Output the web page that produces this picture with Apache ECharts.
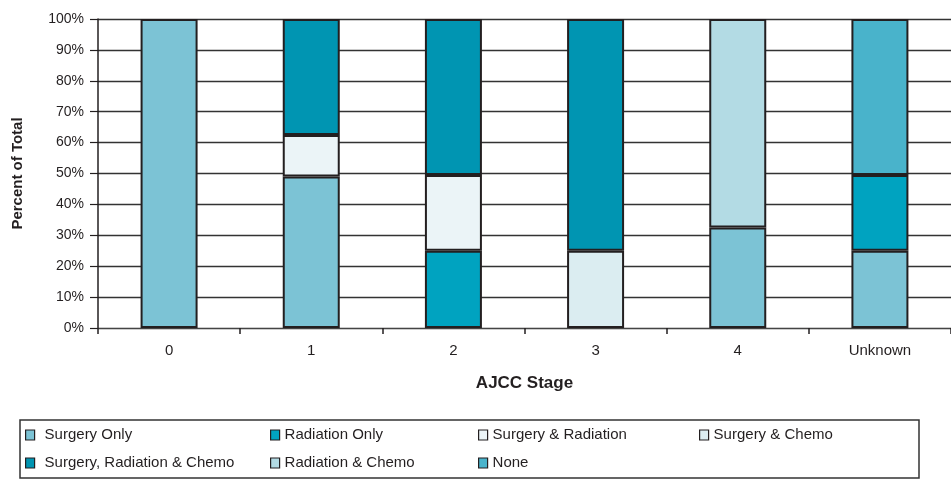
<!DOCTYPE html>
<html>
<head>
<meta charset="utf-8">
<script src="https://cdn.jsdelivr.net/npm/echarts@6/dist/echarts.min.js"></script>
<style>
html,body{margin:0;padding:0;background:#fff;}
#chart{width:951px;height:479px;}
</style>
</head>
<body>
<div id="chart"></div>
<script>
var categories = ['0', '1', '2', '3', '4', 'Unknown'];
var seriesNames = ['Surgery Only', 'Radiation Only', 'Surgery & Radiation', 'Surgery & Chemo',
  'Surgery, Radiation & Chemo', 'Radiation & Chemo', 'None'];
var surgeryOnly      = [100, 49,   0,    0,  32.5, 25];
var radiationOnly    = [0,   0,    25,   0,  0,    24.5];
var surgeryRadiation = [0,   13.5, 24.5, 0,  0,    0];
var surgeryChemo     = [0,   0,    0,    25, 0,    0];
var surgRadChemo     = [0,   37.5, 50.5, 75, 0,    0];
var radiationChemo   = [0,   0,    0,    0,  67.5, 0];
var none             = [0,   0,    0,    0,  0,    50.5];
var yTicks = [0, 10, 20, 30, 40, 50, 60, 70, 80, 90, 100];

var values = [surgeryOnly, radiationOnly, surgeryRadiation, surgeryChemo, surgRadChemo, radiationChemo, none];
var colors = ['#7cc3d5', '#00a3c0', '#ebf4f7', '#dbedf1', '#0095b2', '#b3dbe4', '#49b3cb'];
var ink = '#231f20';

var series = seriesNames.map(function (name, i) {
  return {
    name: name,
    type: 'bar',
    stack: 'total',
    barWidth: 57,
    data: values[i].map(function (v) { return v === 0 ? '-' : v; }),
    itemStyle: { color: colors[i], borderColor: ink, borderWidth: 2 },
    emphasis: { disabled: true }
  };
});

// legend layout: [left, centerY, textPad]
var legendPos = [
  [25, 435, 5], [270, 435, 0], [478, 435, 0], [699, 435, 0],
  [25, 463, 5], [270, 463, 0], [478, 463, 0]
];
var legends = seriesNames.map(function (name, i) {
  return {
    data: [name],
    left: legendPos[i][0],
    top: legendPos[i][1] - 9,
    padding: 0,
    itemWidth: 9,
    itemHeight: 10,
    icon: 'rect',
    selectedMode: false,
    itemStyle: { borderColor: ink, borderWidth: 1.2 },
    textStyle: { fontSize: 15, color: ink, fontFamily: 'Liberation Sans, Arial, sans-serif',
      lineHeight: 18, padding: [0, 0, 0, legendPos[i][2]] }
  };
});

var chart = echarts.init(document.getElementById('chart'), null, { renderer: 'canvas' });
chart.setOption({
  animation: false,
  backgroundColor: '#fff',
  textStyle: { fontFamily: 'Liberation Sans, Arial, sans-serif' },
  grid: { left: 98, right: -5, top: 19, bottom: 151, containLabel: false },
  legend: legends,
  graphic: [{
    type: 'rect',
    shape: { x: 20, y: 420, width: 899, height: 58 },
    style: { fill: 'none', stroke: '#333', lineWidth: 1.5 },
    silent: true
  }],
  xAxis: {
    type: 'category',
    data: categories,
    name: 'AJCC Stage',
    nameLocation: 'middle',
    nameGap: 47,
    nameTextStyle: { fontSize: 17, fontWeight: 'bold', color: ink },
    axisLine: { lineStyle: { color: '#444', width: 1.2 } },
    axisTick: { show: true, length: 6, alignWithLabel: false, lineStyle: { color: ink, width: 1.5 } },
    axisLabel: { fontSize: 15, color: ink, margin: 15 },
    splitLine: { show: false }
  },
  yAxis: {
    type: 'value',
    min: 0,
    max: 100,
    interval: 10,
    name: 'Percent of Total',
    nameLocation: 'middle',
    nameGap: 73,
    nameTextStyle: { fontSize: 15, fontWeight: 'bold', color: ink },
    axisLine: { show: true, lineStyle: { color: ink, width: 1.5 } },
    axisTick: { show: true, length: 8, lineStyle: { color: ink, width: 1.2 } },
    axisLabel: { fontSize: 14, color: ink, margin: 14,
      formatter: function (v) { return yTicks.indexOf(v) >= 0 ? v + '%' : ''; } },
    splitLine: { show: true, lineStyle: { color: '#333', width: 1.3 } }
  },
  series: series
});
</script>
</body>
</html>
